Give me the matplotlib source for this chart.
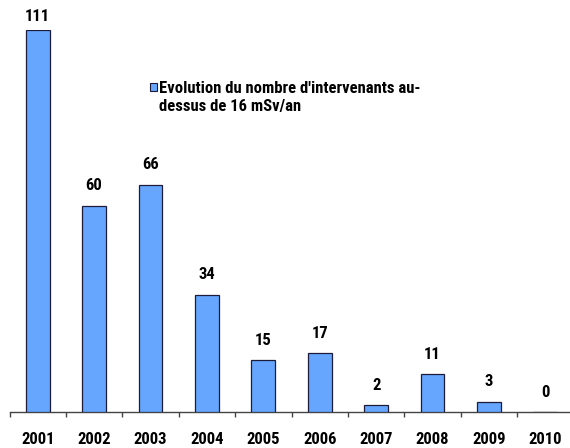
import matplotlib
matplotlib.use("Agg")
import matplotlib.pyplot as plt
from matplotlib.patches import Rectangle

years = ["2001", "2002", "2003", "2004", "2005", "2006", "2007", "2008", "2009", "2010"]
values = [111, 60, 66, 34, 15, 17, 2, 11, 3, 0]
legend_label = "Evolution du nombre d'intervenants au-\ndessus de 16 mSv/an"

plt.rcParams['font.family'] = ['Roboto Condensed', 'Liberation Sans', 'DejaVu Sans']

fig = plt.figure(figsize=(5.70, 4.48), dpi=100)
W, H = 570.0, 448.0
left_px, right_px = 9.5, 573.5
axis_y, top_y = 412.0, 30.0
ax = fig.add_axes([left_px / W, (H - axis_y) / H, (right_px - left_px) / W, (axis_y - top_y) / H])

x = list(range(len(years)))
bars = ax.bar(x, values, width=0.42, color='#66A6FF', edgecolor='#1c1c3a', linewidth=0.9, zorder=3)

ax.set_xlim(-0.5, len(years) - 0.5)
ax.set_ylim(0, max(values))

px2pt = 72.0 / 100.0
for xi, v in zip(x, values):
    off_px = 9 if v == max(values) else 15.5
    ax.annotate(str(v), (xi, v), xytext=(0, off_px * px2pt), textcoords='offset points',
                ha='center', va='baseline', fontsize=12, fontweight='bold', clip_on=False)

for s in ['top', 'right', 'left']:
    ax.spines[s].set_visible(False)
ax.spines['bottom'].set_color('#444444')
ax.spines['bottom'].set_linewidth(1.0)
ax.set_yticks([])
ax.set_xticks(x)
ax.set_xticklabels(years, fontsize=12, fontweight='bold')
ax.set_xticks([i - 0.5 for i in range(len(years) + 1)], minor=True)
ax.tick_params(axis='x', which='major', length=0, pad=14.5)
ax.tick_params(axis='x', which='minor', length=3.5, width=1.0, color='#444444', direction='out')

# legend
fig.patches.append(Rectangle((150 / W, (H - 91) / H), 7 / W, 8 / H,
                             transform=fig.transFigure, facecolor='#66A6FF',
                             edgecolor='#1c1c3a', linewidth=0.8))
for i, line in enumerate(legend_label.split('\n')):
    fig.text(159 / W, (H - (93 + 18 * i)) / H, line, ha='left', va='baseline',
             fontsize=12, fontweight='bold')

fig.savefig('out.png', dpi=100)
